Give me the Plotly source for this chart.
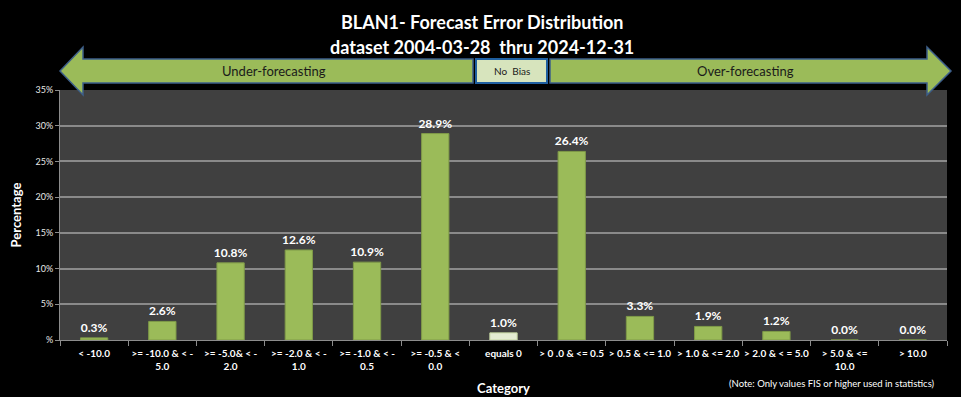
import plotly.graph_objects as go

categories = [
    "< -10.0", ">= -10.0 & < -<br>5.0", ">= -5.0& < -<br>2.0", ">= -2.0 & < -<br>1.0",
    ">= -1.0 & < -<br>0.5", ">= -0.5 & <<br>0.0", "equals 0", "> 0 .0 & <= 0.5",
    "> 0.5 & <= 1.0", "> 1.0 & <= 2.0", "> 2.0 & < = 5.0", "> 5.0 & <=<br>10.0", "> 10.0",
]
percentages = [0.3, 2.6, 10.8, 12.6, 10.9, 28.9, 1.0, 26.4, 3.3, 1.9, 1.2, 0.0, 0.0]
y_tick_vals = [0, 5, 10, 15, 20, 25, 30, 35]
y_tick_text = ["%", "5%", "10%", "15%", "20%", "25%", "30%", "35%"]

W, H = 961, 397
L, R, T, B = 60, 947, 90, 340

def px(x, y):
    return (x - L) / (R - L), (B - y) / (B - T)

def path(points):
    s = ""
    for i, (x, y) in enumerate(points):
        a, b = px(x, y)
        s += ("M" if i == 0 else "L") + f"{a:.5f},{b:.5f} "
    return s + "Z"

bar_colors = ["#e4ecd3" if c == "equals 0" else "#9bbb59" for c in categories]
line_colors = ["#c4d6a0" if c == "equals 0" else "#7f9a48" for c in categories]

FONT = "Lato"

fig = go.Figure(go.Bar(
    x=categories, y=percentages,
    marker=dict(color=bar_colors, line=dict(color=line_colors, width=1)),
    width=0.4,
    text=[f"{v:.1f}%" for v in percentages],
    textposition="outside",
    constraintext="none",
    textfont=dict(color="white", size=12, family=FONT, weight="bold"),
    cliponaxis=False,
))

fig.update_layout(
    width=W, height=H,
    margin=dict(l=L, r=W - R, t=T, b=H - B, autoexpand=False),
    paper_bgcolor="black", plot_bgcolor="#404040",
    showlegend=False,
    font=dict(family=FONT, color="white"),
)
fig.update_xaxes(
    type="category", automargin=False,
    tickson="boundaries", ticks="outside", ticklen=5, tickcolor="#8c8c8c",
    showline=True, linecolor="#8c8c8c", linewidth=1,
    tickfont=dict(size=10, color="white", family=FONT, weight="bold"),
    ticklabelstandoff=4,
    tickangle=0,
    title=dict(text="Category", font=dict(size=13, color="white", family=FONT, weight="bold"), standoff=12),
    showgrid=False,
)
fig.update_yaxes(
    automargin=False,
    range=[0, 35], tickvals=y_tick_vals, ticktext=y_tick_text,
    ticks="outside", ticklen=4, tickcolor="#8c8c8c",
    showline=True, linecolor="#8c8c8c", linewidth=1,
    gridcolor="#8a8a8a", gridwidth=1.5,
    tickfont=dict(size=9, color="#e8e8e8", family=FONT),
    title=dict(text="Percentage", font=dict(size=13, color="white", family=FONT, weight="bold"), standoff=10),
    zeroline=False,
)

arrow_fill = "#9bbb59"
arrow_line = "#3d5f8a"
shapes = [
    dict(type="path", xref="paper", yref="paper", layer="above",
         path=path([(60, 71), (83, 47), (83, 59), (473, 59), (473, 83), (83, 83), (83, 95)]),
         fillcolor=arrow_fill, line=dict(color=arrow_line, width=1.5)),
    dict(type="path", xref="paper", yref="paper", layer="above",
         path=path([(550, 59), (927, 59), (927, 47), (951, 71), (927, 95), (927, 83), (550, 83)]),
         fillcolor=arrow_fill, line=dict(color=arrow_line, width=1.5)),
    dict(type="path", xref="paper", yref="paper", layer="above",
         path=path([(476, 59), (547, 59), (547, 83), (476, 83)]),
         fillcolor="#d7e4bd", line=dict(color="#1f5fa0", width=2)),
]
fig.update_layout(shapes=shapes)

def ann(text, x, y, size, color="white", bold=False, xanchor="center"):
    a, b = px(x, y)
    return dict(text=text, x=a, y=b, xref="paper", yref="paper", showarrow=False,
                xanchor=xanchor, yanchor="middle",
                font=dict(size=size, color=color, family=FONT, weight="bold" if bold else "normal"))

fig.update_layout(annotations=[
    ann("BLAN1- Forecast Error Distribution", 482, 22, 18, bold=True),
    ann("dataset 2004-03-28  thru 2024-12-31", 482, 47, 18, bold=True),
    ann("Under-forecasting", 274, 71, 13, color="#1a1a1a"),
    ann("Over-forecasting", 745, 71, 13, color="#1a1a1a"),
    ann("No  Bias", 512, 71, 10, color="#1a1a1a"),
    ann("(Note: Only values FIS or higher used in statistics)", 937, 383, 9.5, color="white", xanchor="right"),
])

fig.write_html(
    "out.html",
    config={"displayModeBar": False},
    post_script="document.body.style.margin='0';document.body.style.background='black';",
)
